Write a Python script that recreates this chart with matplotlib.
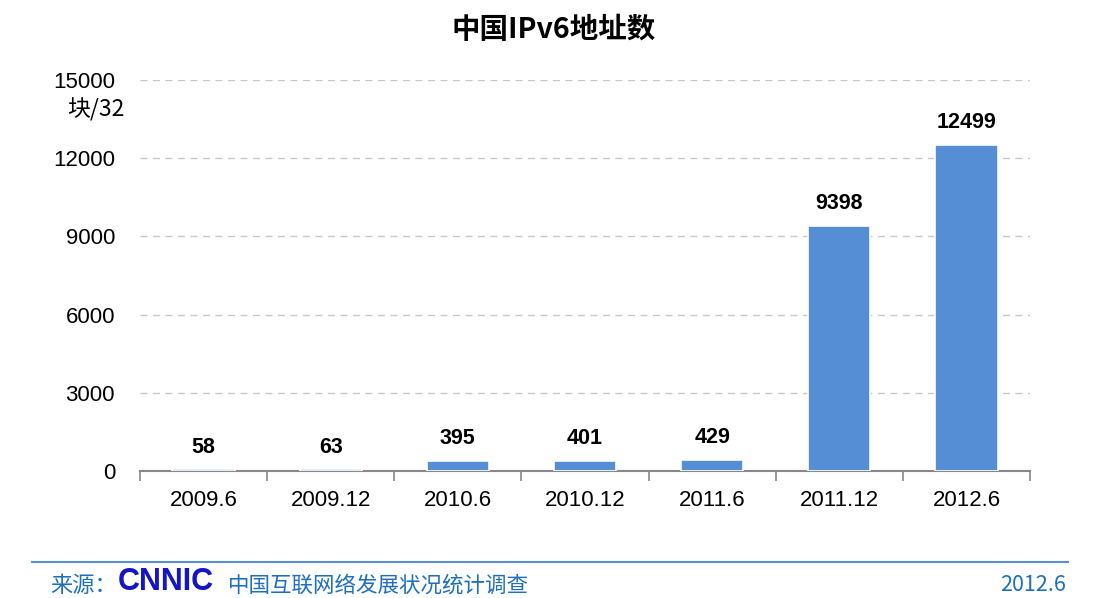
import matplotlib
matplotlib.use("Agg")
import matplotlib.pyplot as plt
import numpy as np

categories = ["2009.6", "2009.12", "2010.6", "2010.12", "2011.6", "2011.12", "2012.6"]
values = [58, 63, 395, 401, 429, 9398, 12499]
yticks = [0, 3000, 6000, 9000, 12000, 15000]

CJK = ['Noto Sans CJK SC', 'Liberation Sans', 'DejaVu Sans']
LAT = ['Liberation Sans', 'DejaVu Sans']

fig = plt.figure(figsize=(11.07, 5.98), dpi=100)

ax = fig.add_axes([0.1265, 0.2124, 0.804, 0.654])
x = np.arange(len(categories))
ax.bar(x, values, width=0.49, color='#558ED5', edgecolor='white', linewidth=1.2, zorder=3)
ax.set_xlim(-0.5, len(categories) - 0.5)
ax.set_ylim(0, 15000)
ax.set_yticks(yticks)
ax.set_yticklabels([str(v) for v in yticks], family=LAT, fontsize=16)
ax.tick_params(axis='y', length=0, pad=18)
ax.yaxis.grid(True, linestyle=(0, (5, 4)), color='#c8c8c8', linewidth=1, zorder=0)
ax.set_xticks(x)
ax.set_xticklabels(categories, family=LAT, fontsize=16)
ax.set_xticks(np.arange(len(categories) + 1) - 0.5, minor=True)
ax.tick_params(axis='x', which='major', length=0, pad=14)
ax.tick_params(axis='x', which='minor', length=7, color='#888888', width=1.2, direction='out')
for s in ['top', 'right', 'left']:
    ax.spines[s].set_visible(False)
ax.spines['bottom'].set_color('#888888')
ax.spines['bottom'].set_linewidth(1.5)

for xi, v in zip(x, values):
    ax.annotate(str(v), (xi, v), xytext=(0, 16), textcoords='offset points',
                ha='center', va='center', fontsize=15.5, fontweight='bold', family=LAT)

fig.text(0.5, 0.95, "中国IPv6地址数", ha='center', va='center', fontsize=20.5,
         fontweight='bold', family=CJK)
fig.text(0.061, 0.817, "块/32", ha='left', va='center', fontsize=16.5, family=CJK)

# footer
fig.add_artist(plt.Line2D([0.029, 0.965], [0.06, 0.06], color='#5a8fd0', linewidth=1.5,
                          transform=fig.transFigure))
fig.text(0.045, 0.021, "来源：", ha='left', va='center', fontsize=16, color='#1f6fbf', family=CJK)
fig.text(0.106, 0.026, "CNNIC", ha='left', va='center', fontsize=22, fontweight='heavy',
         color='#1515c8', family=LAT)
fig.text(0.206, 0.021, "中国互联网络发展状况统计调查", ha='left', va='center', fontsize=15.5,
         color='#1f6fbf', family=CJK)
fig.text(0.963, 0.021, "2012.6", ha='right', va='center', fontsize=15.5, color='#1f6fbf', family=CJK)

fig.savefig("out.png", dpi=100)
